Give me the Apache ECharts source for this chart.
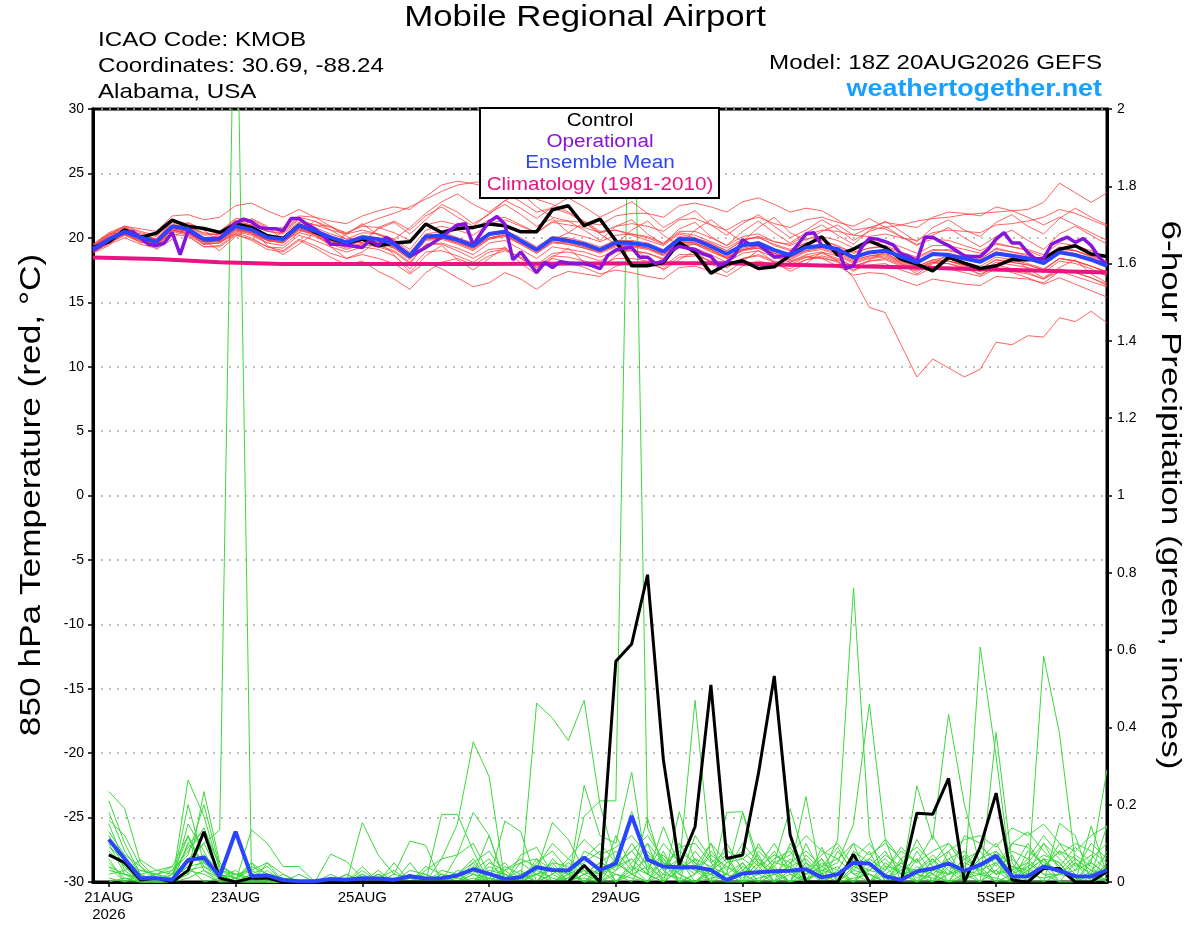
<!DOCTYPE html>
<html><head><meta charset="utf-8">
<script src="https://cdn.jsdelivr.net/npm/echarts@6/dist/echarts.min.js"></script>
<style>html,body{margin:0;padding:0;background:#fff}#c{width:1200px;height:927px}</style>
</head><body><div id="c"></div>
<script>
// ---- x axis (hours after 20AUG2026 18Z) ----
const dateTickHours = [6, 54, 102, 150, 198, 246, 294, 342];
const dateTickLabels = ['21AUG\n2026', '23AUG', '25AUG', '27AUG', '29AUG', '1SEP', '3SEP', '5SEP'];

// ---- 850 hPa temperature, 6-hourly from 20AUG 18Z (65 values) ----
const controlTemp = [19.25,19.69,20.63,20.03,20.37,21.38,20.89,20.73,20.42,21.07,
 20.81,20.16,19.95,20.99,20.47,19.95,19.59,19.9,19.38,19.59,
 19.69,21.07,20.42,20.73,20.81,21.07,20.94,20.47,20.47,22.18,
 22.49,20.94,21.45,19.77,17.83,17.83,18.09,19.64,18.87,17.26,
 17.96,18.22,17.62,17.75,18.66,19.43,20.08,18.66,19.12,19.77,
 19.25,18.35,17.96,17.44,18.48,18.04,17.62,17.83,18.3,18.3,
 18.4,19.12,19.38,18.74,18.55];
const meanTemp = [19.12,19.9,20.47,20.03,19.69,20.89,20.68,19.9,19.95,20.89,
 20.63,20.03,19.9,20.94,20.55,20.03,19.64,20.03,19.9,19.51,
 18.6,20.11,20.16,19.85,19.38,20.29,20.47,19.77,19.07,19.95,
 19.77,19.51,19.07,19.64,19.59,19.43,18.92,19.9,19.85,19.33,
 18.74,19.43,19.59,19.05,18.66,19.25,19.38,19.12,18.48,18.87,
 19.0,18.55,18.09,18.74,18.66,18.4,18.14,18.79,18.61,18.4,
 18.04,18.87,18.66,18.3,17.83];
// operational run, 3-hourly from 20AUG 18Z (129 values)
const operationalTemp = [19.0,19.4,19.85,20.2,20.4,20.5,20.0,19.5,19.4,19.6,
 20.4,18.7,20.55,20.2,19.85,19.85,19.95,20.55,21.15,21.45,
 21.25,20.8,20.7,20.7,20.55,21.5,21.5,21.05,20.7,20.2,
 19.5,19.5,19.45,19.35,19.25,19.85,19.4,20.05,19.6,19.1,
 18.55,18.9,19.25,19.65,20.05,20.55,21.0,21.1,19.45,20.4,
 21.25,21.65,21.05,18.3,18.9,18.1,17.3,18.1,17.7,18.15,
 18.05,18.0,18.0,17.85,17.6,18.65,19.05,19.2,19.25,18.5,
 18.5,18.0,18.2,19.0,19.35,19.2,19.1,18.75,18.55,17.85,
 18.1,18.65,19.85,19.45,19.5,19.0,18.5,18.6,18.75,19.5,
 20.3,20.4,19.4,19.25,19.1,17.6,17.85,19.25,19.95,19.9,
 19.7,19.45,18.75,18.55,18.2,20.05,20.05,19.7,19.4,19.0,
 18.6,18.55,18.55,19.1,19.9,20.4,19.6,19.6,18.85,18.35,
 18.4,19.5,19.8,20.05,19.65,19.95,19.4,18.5,17.85];
// climatology (1981-2010), daily from 20AUG 18Z (17 values)
const climatologyTemp = [18.48,18.35,18.1,17.96,17.96,17.96,17.96,17.98,18.0,18.02,18.02,17.92,17.8,17.7,17.57,17.45,17.31];

// ensemble members, temperature (65 values each)
const tempM01 = [19.3,20.1,20.6,20.3,19.9, 21.0,20.8,20.4,20.2,21.2, 21.0,20.5,20.3,21.2,21.0, 20.6,20.3,21.0,21.5,21.9, 22.4,23.0,23.6,24.1,24.3, 24.4,24.2,23.8,23.0,22.6, 22.0,21.3,20.5,20.6,20.2, 19.8,19.4,20.3,20.0,19.5, 19.0,19.8,20.1,19.4,19.0, 19.6,19.9,19.3,18.9,19.2, 19.3,18.8,18.4,19.0,19.1, 18.7,18.3,19.2,18.9,18.6, 18.2,19.1,19.0,18.6,18.1];
const tempM02 = [19.0,19.6,20.2,19.7,19.3, 20.5,20.2,19.3,19.4,20.3, 19.8,19.1,18.9,19.8,19.2, 18.5,17.9,18.2,17.4,16.8, 16.0,17.3,18.1,18.4,17.9, 18.6,19.0,18.5,17.9,18.8, 18.9,18.6,18.2,18.9,19.0, 18.8,18.4,19.3,19.5,18.9, 18.4,19.0,19.4,18.8,18.4, 19.0,19.3,18.9,18.3,18.6, 18.8,18.2,17.8,18.3,18.5, 18.1,17.8,18.5,18.3,18.0, 17.6,18.4,18.2,17.8,17.3];
const tempM03 = [19.4,20.2,20.8,20.4,20.1, 21.2,21.0,20.3,20.3,21.3, 21.0,20.5,20.4,21.4,21.0, 20.9,20.1,19.6,20.8,21.3, 20.6,21.7,22.4,21.6,20.9, 21.9,22.6,21.8,20.9,21.5, 20.4,20.1,19.7,20.2,20.3, 20.1,19.6,20.5,20.5,20.0, 19.4,20.1,20.3,19.7,19.4, 19.9,20.1,19.8,19.2,19.6, 19.7,19.3,18.8,19.4,19.4, 19.1,18.8,19.5,19.3,19.1, 18.7,19.6,19.4,19.0,18.5];
const tempM04 = [18.9,19.6,20.2,19.7,19.4, 20.6,20.3,19.5,19.6,20.5, 20.2,19.6,19.4,20.4,20.1, 19.5,19.1,19.5,19.3,18.9, 18.0,19.5,19.6,19.2,18.7, 19.6,19.8,19.1,18.4,19.3, 19.1,18.9,18.5,19.0,19.0, 18.8,18.3,19.3,19.2,18.7, 18.1,18.8,19.0,18.5,18.1, 18.7,18.9,18.6,18.0,18.4, 18.5,18.0,17.6,18.2,18.2, 17.9,17.6,18.3,18.1,17.9, 17.5,18.4,18.2,17.8,17.3];
const tempM05 = [19.2,20.0,20.5,20.1,19.8, 20.9,20.6,19.8,20.0,21.0, 20.6,20.1,19.8,20.8,20.6, 20.1,19.7,20.2,20.0,19.6, 18.8,20.3,20.5,20.0,19.5, 20.2,20.4,19.6,19.0,19.9, 19.7,19.3,19.0,19.5,19.4, 19.2,18.7,19.6,19.6,19.1, 18.5,19.1,19.3,18.8,18.2, 18.6,18.4,18.2,16.9,14.6, 14.2,11.7,9.2,10.6,9.9, 9.2,9.8,11.9,11.7,12.4, 12.3,13.8,13.5,14.3,13.4];
const tempM06 = [19.5,20.3,20.9,20.5,20.2, 21.3,21.1,20.6,20.5,21.5, 21.4,20.8,20.6,21.6,21.3, 20.8,20.4,20.9,20.8,20.4, 19.8,21.0,21.3,21.0,20.7, 21.4,21.6,21.0,20.4,21.2, 21.0,20.8,20.4,20.9,21.1, 20.9,20.5,21.4,21.5,21.0, 20.6,21.3,21.6,21.1,20.8, 21.4,21.6,21.2,20.9,21.5, 20.8,21.0,21.3,21.5,21.6, 21.8,21.9,22.0,22.1,22.2, 22.75,24.25,23.5,22.75,23.5];
const tempM07 = [19.1,19.8,20.4,20.0,19.6, 20.8,20.5,19.9,19.8,20.8, 20.5,19.9,19.7,20.8,20.4, 19.9,19.4,19.8,19.7,19.3, 18.5,19.9,20.0,19.6,19.2, 20.0,20.3,19.7,19.0,19.8, 20.4,21.2,20.3,19.5,20.6, 21.3,20.2,19.4,20.6,21.4, 20.5,19.7,20.8,21.6,20.4, 19.8,20.5,21.0,20.2,20.1, 20.3,20.0,19.8,20.4,20.6, 20.5,20.4,21.0,21.1,21.3, 21.6,22.2,21.9,21.4,20.9];
const tempM08 = [19.0,19.7,20.3,19.8,19.5, 20.6,20.4,19.6,19.7,20.6, 20.3,19.8,19.6,20.6,20.3, 19.8,19.3,19.8,19.6,19.2, 18.3,19.8,19.9,19.5,19.0, 19.9,20.1,19.5,18.8,19.6, 19.5,19.2,18.8,19.3,19.3, 19.1,18.6,19.5,19.5,19.0, 18.4,19.0,19.2,18.7,18.3, 18.9,19.1,18.7,18.1,18.5, 18.6,18.1,17.6,18.1,18.0, 17.6,17.2,17.7,17.3,16.9, 16.4,16.9,16.4,15.9,15.4];
const tempM09 = [19.2,19.9,20.4,19.9,19.6, 20.7,20.5,19.7,19.8,20.7, 20.4,19.8,19.7,20.7,20.3, 19.8,19.4,19.8,19.7,19.3, 18.4,19.9,20.0,19.6,19.1, 19.9,20.2,19.5,18.8,19.7, 19.5,19.2,18.9,19.4,19.4, 19.2,18.7,19.7,19.6,19.1, 18.5,19.2,19.4,18.8,18.5, 19.0,19.2,18.8,18.2,18.6, 18.7,18.2,17.7,18.3,18.2, 17.8,17.4,17.9,17.6,17.3, 16.8,17.4,17.0,16.6,16.2];
const tempM10 = [19.5,20.4,20.9,20.0,19.4, 20.4,21.2,20.6,19.7,20.3, 21.5,20.9,19.8,20.4,21.3, 20.6,19.9,19.6,20.7,21.2, 20.3,21.4,22.6,22.0,21.1, 21.8,22.9,22.3,21.5,22.4, 23.1,22.4,21.6,22.2,22.8, 21.9,20.8,21.5,22.1,21.0, 20.2,21.1,21.8,20.9,20.0, 20.6,21.4,20.7,19.8,20.5, 20.9,20.1,19.4,20.2,20.8, 20.0,19.3,20.1,20.6,19.8, 19.1,20.3,20.9,20.2,19.5];
const tempM11 = [19.4,20.2,20.7,20.2,19.9, 21.0,20.9,20.2,20.3,21.3, 21.2,20.7,20.8,21.7,21.6, 21.3,21.1,21.7,22.1,22.4, 22.2,23.2,24.1,24.4,24.2, 23.9,23.5,22.8,22.0,22.3, 21.9,21.2,20.4,20.6,20.3, 20.0,19.5,20.4,20.2,19.7, 19.2,19.9,20.0,19.5,19.1, 19.6,19.8,19.4,18.8,19.2, 19.4,18.9,18.5,19.1,19.0, 18.7,18.4,19.1,18.9,18.7, 18.3,19.2,19.0,18.6,18.2];
const tempM12 = [19.0,19.7,20.3,19.8,19.5, 20.6,20.3,19.5,19.6,20.4, 20.0,19.3,19.0,19.9,19.4, 18.8,18.4,18.7,18.4,18.0, 17.2,18.1,17.6,16.9,16.2, 16.5,17.3,16.8,16.0,16.9, 17.4,17.2,17.0,17.8,18.1, 18.0,17.6,18.5,18.6,18.2, 17.7,18.4,18.7,18.2,17.9, 18.5,18.8,18.4,17.8,18.2, 18.3,17.8,17.4,18.0,18.0, 17.7,17.4,18.1,17.9,17.7, 17.3,18.2,18.0,17.6,17.0];
const tempM13 = [19.3,20.0,20.6,20.2,19.9, 21.0,20.8,20.0,20.1,21.1, 20.8,20.2,20.1,21.1,20.8, 20.3,19.9,20.4,20.3,19.9, 19.1,20.6,20.9,20.6,20.2, 21.1,21.4,20.9,20.4,21.3, 21.3,21.2,21.0,21.7,21.9, 21.9,21.6,22.5,22.7,22.4, 22.0,22.8,23.1,22.6,22.0, 22.3,22.1,21.4,20.6,20.8, 20.7,20.1,19.5,19.9,19.8, 19.4,19.0,19.6,19.3,19.0, 18.5,19.3,19.0,18.5,18.0];
const tempM14 = [19.1,19.8,20.4,19.9,19.6, 20.7,20.5,19.7,19.8,20.7, 20.4,19.8,19.6,20.6,20.2, 19.7,19.2,19.6,19.4,19.0, 18.1,19.5,19.5,19.0,18.4, 19.1,19.2,18.4,17.7,18.4, 18.1,17.7,17.2,17.5,17.3, 17.0,16.8,17.7,17.8,17.4, 17.0,17.8,18.2,17.9,17.6, 18.3,18.6,18.3,17.8,18.2, 18.4,17.9,17.5,18.1,18.2, 17.9,17.6,18.3,18.1,17.9, 17.5,18.4,18.2,17.8,17.4];
const tempM15 = [19.3,20.2,20.9,20.7,20.5, 21.7,21.8,21.4,21.6,22.5, 22.7,22.1,21.6,22.2,21.6, 20.9,20.3,20.6,20.3,19.8, 18.9,20.2,20.3,19.9,19.4, 20.3,20.5,19.8,19.1,20.0, 19.8,19.5,19.1,19.6,19.7, 19.5,19.0,20.0,19.9,19.4, 18.8,19.5,19.7,19.1,18.7, 19.3,19.5,19.1,18.5,18.9, 19.1,18.6,18.1,18.8,18.8, 18.5,18.2,18.9,18.7,18.5, 18.1,19.0,18.8,18.4,17.9];
const tempM16 = [18.8,19.4,20.6,20.2,19.1, 19.9,20.9,19.8,19.0,20.1, 20.8,19.4,18.7,19.5,20.4, 19.3,18.4,18.9,19.8,18.7, 17.3,18.6,19.4,18.3,17.5, 18.4,19.3,18.0,17.2,18.5, 19.2,18.1,17.6,18.6,19.3, 18.4,17.5,18.3,19.0,18.0, 17.3,18.2,19.0,18.1,17.4, 18.0,18.9,18.2,17.4,18.3, 18.9,18.0,17.2,18.0,18.7, 17.9,17.1,17.8,18.5,17.6, 16.9,17.7,18.3,17.2,16.5];
const tempM17 = [18.9,19.5,20.0,19.5,19.2, 20.3,20.1,19.3,19.3,20.2, 19.9,19.3,19.2,20.2,19.8, 19.3,18.9,19.3,19.1,18.6, 17.6,18.9,19.0,18.6,18.1, 18.9,19.1,18.4,17.7,18.6, 18.5,18.2,17.9,18.4,18.4, 18.2,17.8,18.7,18.7,18.2, 17.7,18.4,18.6,18.1,17.8, 18.3,18.5,18.1,17.5,17.9, 18.0,17.5,17.1,17.7,17.6, 17.3,17.0,17.6,17.4,17.2, 16.8,17.6,17.3,16.9,16.4];
const tempM18 = [19.3,20.0,20.6,20.1,19.8, 20.9,20.7,20.0,20.0,21.0, 20.7,20.1,19.9,20.9,20.6, 20.1,19.7,20.1,20.0,19.6, 18.8,20.2,20.3,20.0,19.6, 20.4,20.6,20.0,19.3,20.1, 20.0,19.7,19.3,19.8,19.8, 19.6,19.1,20.1,20.0,19.6, 19.0,19.8,20.1,19.7,19.5, 20.2,20.6,20.5,20.2,20.8, 21.2,21.0,20.8,21.6,22.0, 21.9,21.7,22.4,22.1,21.6, 21.0,21.6,21.0,20.4,19.8];
const tempM19 = [19.0,19.7,20.3,19.9,19.5, 20.6,20.4,19.7,19.7,20.6, 20.4,19.8,19.7,20.7,20.3, 19.8,19.4,19.8,19.7,19.2, 18.4,19.9,20.0,19.7,19.2, 20.0,20.2,19.6,18.9,19.7, 19.6,19.3,18.9,19.4,19.4, 19.2,18.7,19.7,19.6,19.1, 18.4,19.1,19.2,18.6,18.1, 18.5,18.4,17.8,17.1,17.3, 17.2,16.7,16.3,16.8,16.6, 16.4,16.3,17.0,16.9,16.8, 16.5,17.4,17.3,16.9,16.3];
const tempM20 = [19.3,20.3,20.4,19.6,19.9, 21.2,20.5,19.5,20.4,21.4, 20.3,19.6,20.5,21.5,20.2, 19.5,20.3,21.1,20.2,19.9, 20.8,21.9,22.8,23.4,22.6, 22.0,22.9,23.5,22.4,21.6, 21.3,20.6,19.8,20.9,21.4, 20.3,19.5,20.7,21.2,20.1, 19.4,20.5,21.3,20.4,19.6, 20.4,21.0,20.2,19.5,20.6, 21.3,20.5,19.7,20.8,21.4, 20.6,20.1,21.2,21.8,20.9, 20.3,21.5,22.3,21.6,21.0];

// ---- 6-hour precipitation, from 21AUG 00Z (64 values) ----
const controlPrecip = [0.07,0.05,0.005,0.01,0,0.03,0.13,0.01, 0,0.01,0.01,0,0,0,0,0, 0,0,0,0,0,0,0,0, 0,0,0,0,0,0,0.043,0, 0.571,0.616,0.795,0.316,0.044,0.143,0.51,0.061, 0.07,0.281,0.533,0.122,0,0,0,0.072, 0,0,0,0.178,0.175,0.268,0,0.091, 0.23,0.005,0,0.035,0.035,0,0,0.027];
const meanPrecip = [0.11,0.06,0.01,0.01,0.005,0.057,0.063,0.015, 0.13,0.015,0.017,0.005,0.002,0.002,0.008,0.006, 0.01,0.009,0.006,0.015,0.009,0.01,0.017,0.033, 0.021,0.008,0.012,0.038,0.031,0.03,0.063,0.031, 0.048,0.171,0.058,0.04,0.038,0.038,0.031,0.005, 0.022,0.025,0.028,0.029,0.033,0.012,0.02,0.05, 0.048,0.015,0.005,0.027,0.035,0.048,0.029,0.044, 0.068,0.014,0.015,0.04,0.029,0.015,0.014,0.031];
const precipM01 = [.234,.19,.05,.01,0,.1,.05,.02, 0,.135,.1,.04,.04,0,0,0, 0,.02,0,0,0,.175,.175,.08, 0,.03,0,.463,.424,.366,.47,.2, .05,.02,0,.06,0,0,.03,0, 0,.02,0,.05,0,0,.03,.1, 0,.02,0,0,.06,0,0,.04, 0,0,.05,.1,.03,0,.02,0];
const precipM02 = [.21,.1,.02,0,.02,.05,.1,.135, 2.55,.02,0,0,0,0,.01,0, .03,0,0,.02,0,0,0,.02, .12,0,.02,0,.05,0,.08,.06, 0,.05,.1,0,.03,.06,0,.02, .18,.04,0,0,.05,0,0,.04, .02,0,.06,0,0,.05,0,0, .03,0,0,.06,0,0,.05,.02];
const precipM03 = [.15,.05,0,0,0,.264,.17,.03, .01,.05,.02,0,0,0,.072,.053, .01,0,.05,0,0,.06,.07,.1, .02,0,.07,.09,.02,0,.17,.21, .21,2.5,.14,.05,.02,0,.04,.07, 0,.1,.03,0,.02,.06,0,0, 0,.05,.02,.11,.04,0,.02,.06, .1,.03,0,0,.02,.05,0,.01];
const precipM04 = [.12,.03,.057,.03,.04,.02,.234,.05, 0,.01,0,0,0,.005,0,0, .154,.07,.02,.106,.095,0,.01,0, 0,.158,.13,0,0,.02,0,0, .06,.182,.05,0,.182,.05,0,0, 0,0,.05,.19,.05,.02,.11,.761, .12,0,.03,0,.02,0,.07,.02, 0,.1,.09,.04,0,0,.03,0];
const precipM05 = [.1,.02,0,.01,0,.2,.05,.01, .03,0,.05,0,0,0,0,.02, 0,0,0,0,.03,.06,.15,.363, .273,0,0,.03,.154,.11,.03,0, 0,.02,.165,.03,0,.02,.1,0, .05,0,0,.03,.221,0,.02,0, .06,.11,0,.249,.11,.434,.2,.04, .06,0,.04,0,.152,.12,0,.05];
const precipM06 = [.08,.04,0,0,.02,.117,.03,0, 0,.05,0,.02,0,0,0,.01, 0,.03,0,.05,0,0,.07,.18, .12,0,.05,.06,0,0,.25,.12, .1,.284,.02,.143,.04,.47,.05,0, .02,0,.05,.04,0,.09,0,.06, 0,0,.05,.02,0,.08,0,.608, .325,0,.03,.06,.05,0,.145,.02];
const precipM07 = [.06,0,.03,.02,.01,.04,0,.01, .02,0,.03,0,0,0,.02,0, .02,0,0,0,.04,.02,0,0, .03,.02,0,.02,.05,.04,0,.03, .04,.06,.02,0,.05,.03,0,.18, .182,.06,0,.02,0,.03,.05,.15, .461,.113,.057,0,.03,.06,.02,0, .387,.05,0,.584,.385,.05,.02,.145];
const precipM08 = [.05,.01,0,0,.01,.06,.1,.02, 0,.02,0,0,.02,0,0,0, 0,.01,.03,0,0,.02,0,.05, 0,.01,.03,0,.02,.05,.02,0, .12,.04,0,.08,0,.12,.06,.02, 0,.08,.04,0,.1,.02,0,.03, .08,0,0,.06,0,.02,.12,.1, .04,.1,.13,.08,.04,.09,.05,.29];
const precipM09 = [.03,.02,.01,.02,.03,.08,.14,.04, .02,.01,.02,.01,0,0,0,0, .04,0,0,.03,.02,0,.02,.03, .06,0,.02,.04,0,.03,.05,.08, 0,.03,.06,.02,.1,.04,0,.05, .06,.03,.08,.02,0,.05,.03,0, .04,.08,.02,.03,.07,.03,0,.05, .02,.06,.02,.03,.1,.04,.07,.03];
const precipM10 = [0,.01,0,0,0,.02,.06,.02, 0,0,0,0,0,0,0,0, 0,.02,0,0,0,0,.03,.02, 0,0,0,.02,.03,0,.02,.05, .08,.03,.1,.05,0,.02,.08,.03, .1,.05,.02,.06,.03,0,.02,.05, 0,.03,.08,.05,.12,.05,.03,.02, .08,.04,.02,.1,.06,.02,0,.08];
const precipM11 = [.18,.08,.02,0,0,.03,.02,0, 0,.02,.04,0,0,0,0,0, .01,0,.01,0,0,.02,.01,0, .04,.02,0,0,.02,.06,.03,0, .03,.1,.04,.07,.02,0,.03,.06, 0,.04,.1,.03,0,.04,.06,.02, 0,.04,0,.08,.02,0,.05,.03, 0,.02,.06,.02,0,.05,.02,.04];
const precipM12 = [.07,.05,.03,.02,0,.15,.08,0, .01,0,0,0,0,0,0,.02, 0,0,.02,.01,0,0,0,.04, .02,.05,0,0,.06,.02,0,.04, .02,0,.08,.03,.06,0,.02,.1, .03,.07,0,.1,.04,0,.08,.03, .02,0,.04,.02,.05,.1,.04,0, .05,0,.08,.05,.03,.07,.04,0];
const precipM13 = [.04,0,.02,.03,.02,.09,.12,.05, .01,.03,.01,0,0,0,0,0, 0,0,0,0,.01,0,.02,.06, 0,.03,.05,.02,0,.02,.04,.02, .06,.02,0,.04,.08,.05,.02,0, .04,.02,.06,.08,.02,.06,0,.08, .05,.02,0,.04,.02,.06,.08,.02, .03,.07,0,.04,.08,.03,.1,.06];
const precipM14 = [.02,.03,0,0,.01,.04,.05,.02, 0,0,0,0,0,0,0,0, 0,0,0,0,0,0,0,0, .02,0,.02,.03,.01,0,.02,.03, 0,.04,.02,0,.03,.06,.04,.02, .05,0,.02,.04,.06,.02,.04,0, .03,.06,.02,0,.03,.02,.06,.08, .02,.03,.05,.02,.02,.06,.03,.02];
const precipM15 = [.09,.06,.02,0,.03,.07,.2,.04, .02,.01,0,0,0,0,0,0, 0,0,.01,0,0,.01,0,.02, .01,0,0,.05,.08,.03,0,.02, .04,.08,.03,.1,.05,.02,.07,.04, .02,.06,.03,0,.07,.03,.02,.06, .1,.04,.03,.06,0,.04,.02,.06, .08,.02,.04,.07,.05,0,.06,.1];
const precipM16 = [.01,0,0,.01,0,.01,.03,.01, 0,0,0,0,0,0,0,0, 0,0,0,0,0,0,0,.01, 0,.01,0,0,0,.01,.01,0, .02,.01,0,.02,.01,0,.01,.02, 0,.01,.02,0,.01,.02,0,.01, .02,0,.01,.02,.01,0,.01,.02, .01,0,.02,.01,.02,.01,0,.01];
const precipM17 = [.13,.07,.04,0,0,.05,.07,.03, .02,.03,.05,.02,0,0,0,0, .02,0,0,.02,0,.03,.02,0, .05,.03,.06,.04,.1,.06,.11,.07, .09,.12,.07,.04,.09,.1,.05,.08, .06,.09,.05,.07,.12,.08,.06,.1, .07,.1,.06,.09,.05,.08,.11,.12, .09,.14,.12,.15,.1,.08,.12,.145];
const precipM18 = [.11,.04,0,.02,.04,.12,.04,.02, 0,.02,0,0,0,0,0,0, 0,.02,0,0,0,0,.02,.05, .08,.02,0,.06,.03,.02,.06,.1, .05,.08,.12,.06,.02,.08,.03,.01, .03,.02,.04,.09,.03,.07,.1,.04, .06,.03,.09,.05,.08,.1,.06,.03, .05,.08,.06,.12,.07,.1,.08,.05];
const precipM19 = [.16,.12,.04,.01,0,.1,.13,.02, .01,.04,.02,.01,0,0,0,0, 0,0,0,.01,.02,0,0,.03, 0,.04,.02,0,.04,0,.02,.05, .03,.06,.02,.05,.03,.04,.1,.05, .08,.04,.07,.05,.08,.04,.09,.02, .03,.07,.04,.03,.06,.02,.04,.09, .06,.03,.1,.04,.08,.06,.03,.07];
const precipM20 = [.04,.02,.01,0,0,.03,.04,.01, 0,0,0,0,0,0,.01,0, 0,0,0,0,0,.01,0,0, .01,0,.01,.02,0,.01,.03,.02, .05,.02,.04,.01,.06,.03,.02,.04, .01,.05,.02,.03,.02,.04,.01,.05, .03,.02,.05,.01,.04,.02,.03,.05, .02,.04,.03,.06,.02,.03,.05,.02];

const tempMembers = [tempM01,tempM02,tempM03,tempM04,tempM05,tempM06,tempM07,tempM08,tempM09,tempM10,
  tempM11,tempM12,tempM13,tempM14,tempM15,tempM16,tempM17,tempM18,tempM19,tempM20];
const precipMembers = [precipM01,precipM02,precipM03,precipM04,precipM05,precipM06,precipM07,precipM08,precipM09,precipM10,
  precipM11,precipM12,precipM13,precipM14,precipM15,precipM16,precipM17,precipM18,precipM19,precipM20];

// ---- build options ----
const FONT = '"Liberation Sans", Arial, Helvetica, sans-serif';
const pts = (arr, start, step) => arr.map((v, i) => [start + i * step, v]);
const line = (data, yIdx, color, width, z) => ({
  type: 'line', data, yAxisIndex: yIdx, symbol: 'none', showSymbol: false,
  lineStyle: { color, width }, itemStyle: { color }, z, silent: true, animation: false, clip: true
});

const series = [];
precipMembers.forEach(a => series.push(line(pts(a, 6, 6), 1, '#3cd83c', 1, 1)));
tempMembers.forEach(a => series.push(line(pts(a, 0, 6), 0, 'rgba(255,60,60,0.8)', 1, 2)));
series.push(line(pts(controlPrecip, 6, 6), 1, '#000000', 3, 3));
series.push(line(pts(meanPrecip, 6, 6), 1, '#2a44ff', 4, 4));
series.push(line(pts(climatologyTemp, 0, 24), 0, '#ea1382', 4, 3));
series.push(line(pts(controlTemp, 0, 6), 0, '#000000', 3.5, 4));
series.push(line(pts(operationalTemp, 0, 3), 0, '#8614dc', 3.5, 5));
series.push(line(pts(meanTemp, 0, 6), 0, '#2a44ff', 4, 6));

const txt = (text, x, y, font, color, align, sx, extra) => Object.assign({
  type: 'text', x, y, z: 101, scaleX: sx,
  style: { text, font: font + ' ' + FONT, fill: color, textAlign: align, align: align, textVerticalAlign: 'middle', verticalAlign: 'middle' }
}, extra || {});

const option = {
  backgroundColor: '#ffffff',
  animation: false,
  textStyle: { fontFamily: FONT },
  grid: { left: 93, right: 93, top: 109, bottom: 45, show: true, borderColor: '#000', borderWidth: 3, backgroundColor: 'transparent', containLabel: false },
  xAxis: {
    type: 'value', min: 0, max: 384,
    axisLine: { show: true, onZero: false, lineStyle: { color: '#000', width: 3 } },
    axisTick: { show: true, customValues: dateTickHours, length: 5, lineStyle: { color: '#000', width: 1.5 } },
    axisLabel: { customValues: dateTickHours, color: '#000', fontSize: 15, margin: 7, lineHeight: 17,
      formatter: v => { const k = dateTickHours.indexOf(v); return k >= 0 ? dateTickLabels[k] : ''; } },
    splitLine: { show: false }
  },
  yAxis: [
    { type: 'value', min: -30, max: 30, interval: 5, position: 'left',
      axisLine: { show: true, onZero: false, lineStyle: { color: '#000', width: 3 } },
      axisTick: { show: true, length: 5, lineStyle: { color: '#000', width: 1.5 } },
      axisLabel: { color: '#000', fontSize: 14, margin: 9 },
      splitLine: { show: true, lineStyle: { color: '#aaaaaa', width: 1.5, type: [2, 6] } } },
    { type: 'value', min: 0, max: 2, interval: 0.2, position: 'right',
      axisLine: { show: true, onZero: false, lineStyle: { color: '#000', width: 3 } },
      axisTick: { show: true, length: 5, lineStyle: { color: '#000', width: 1.5 } },
      axisLabel: { color: '#000', fontSize: 14, margin: 10 },
      splitLine: { show: false } }
  ],
  series,
  graphic: { elements: [
    txt('Mobile Regional Airport', 585, 18, '30px', '#000', 'center', 1.16),
    txt('ICAO Code: KMOB', 98, 40, '21px', '#000', 'left', 1.15),
    txt('Coordinates: 30.69, -88.24', 98, 66, '21px', '#000', 'left', 1.15),
    txt('Alabama, USA', 98, 92, '21px', '#000', 'left', 1.15),
    txt('Model: 18Z 20AUG2026 GEFS', 1102, 63, '21px', '#000', 'right', 1.15),
    txt('weathertogether.net', 1102, 89, 'bold 24px', '#18a0ff', 'right', 1.12),
    { type: 'rect', z: 100, shape: { x: 480, y: 108, width: 239, height: 90 },
      style: { fill: '#ffffff', stroke: '#000000', lineWidth: 2 } },
    txt('Control', 600, 121, '18px', '#000000', 'center', 1.15),
    txt('Operational', 600, 142, '18px', '#8614dc', 'center', 1.15),
    txt('Ensemble Mean', 600, 163, '18px', '#2a44ff', 'center', 1.15),
    txt('Climatology (1981-2010)', 600, 185, '18px', '#ea1382', 'center', 1.15),
    txt('850 hPa Temperature (red, \u00B0C)', 32, 495, '30px', '#000', 'center', 1.175, { rotation: Math.PI / 2 }),
    txt('6-hour Precipitation (green, inches)', 1170, 495, '28px', '#000', 'center', 1.255, { rotation: -Math.PI / 2 })
  ] }
};

const chart = echarts.init(document.getElementById('c'), null, { renderer: 'canvas' });
chart.setOption(option);
</script>
</body></html>
